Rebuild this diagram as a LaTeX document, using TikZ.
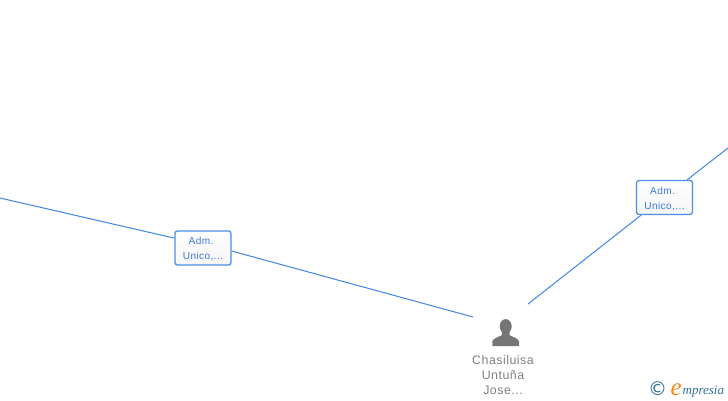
\documentclass[tikz,border=0pt]{standalone}
\usepackage{fontspec}
\setmainfont{Liberation Sans}
\newfontfamily\logofont{Liberation Serif}
\newfontfamily\boxfont[LetterSpace=4]{Liberation Sans}
\newfontfamily\namefont[LetterSpace=4]{Liberation Sans}
\newfontfamily\copyfont{DejaVu Sans}
\definecolor{linkblue}{HTML}{3F86E4}
\definecolor{boxblue}{HTML}{4C8DEA}
\definecolor{textblue}{HTML}{3A78D8}
\definecolor{namegray}{HTML}{808080}
\definecolor{icongray}{HTML}{757575}
\definecolor{logoteal}{HTML}{2F6F8F}
\definecolor{logoorange}{HTML}{F08A1D}
\tikzset{
  linkline/.style={draw=linkblue,line width=1pt},
  rolebox/.style={draw=boxblue,line width=1.3pt,rounded corners=2.5pt,top color=white,bottom color=black!4,
    minimum width=56pt,minimum height=34pt,inner sep=0pt,align=center,text=textblue,
    font=\boxfont\fontsize{10.1pt}{15pt}\selectfont},
  namelabel/.style={align=center,text=namegray,inner sep=0pt,font=\namefont\fontsize{12.4pt}{15pt}\selectfont},
}
\begin{document}
\begin{tikzpicture}[x=1pt,y=-1pt]
\useasboundingbox (0,0) rectangle (728,400);
\fill[white] (0,0) rectangle (728,400);
\node[rolebox] (boxL) at (203,248) {\rule{0pt}{10pt}\mbox{Adm.\hspace{4pt}}\\Unico,...};
\node[rolebox] (boxR) at (664.5,197.5) {\rule{0pt}{10pt}\mbox{Adm.\hspace{4pt}}\\Unico,...};
\coordinate (startL) at (0,198);
\coordinate (endL) at (473,317);
\coordinate (startR) at (728,148);
\coordinate (endR) at (528,304);
\draw[linkline] (startL) -- (boxL.161);
\draw[linkline] (boxL.-6) -- (endL);
\draw[linkline] (startR) -- (boxR.38);
\draw[linkline] (boxR.217) -- (endR);
% person icon
\fill[icongray] (505.7,326.3) ellipse [x radius=6pt,y radius=7.2pt];
\fill[icongray] (492.3,346.2) -- (492.3,341.5) .. controls (492.8,338.5) and (498,337.2) .. (501.8,335.2)
  -- (501.8,331) -- (509.6,331) -- (509.6,335.2) .. controls (513.5,337.2) and (518.5,338.5) .. (519,341.5) -- (519,346.2) -- cycle;
\node[namelabel,anchor=north] (person) at (503,355.6) {Chasiluisa\\Untuña\\Jose...};
% logo
\node[inner sep=0pt,text=logoteal] (copy) at (657.5,389) {\fontsize{19pt}{19pt}\selectfont\copyfont ©};
\node[inner sep=0pt,text=logoorange,anchor=base west] (logoe) at (670.5,395) {\fontsize{25pt}{25pt}\selectfont\logofont\itshape e};
\node[inner sep=0pt,text=logoteal,anchor=base west] (logot) at (682.5,394) {\fontsize{13pt}{14pt}\selectfont\logofont\itshape mpresia};
\end{tikzpicture}
\end{document}
